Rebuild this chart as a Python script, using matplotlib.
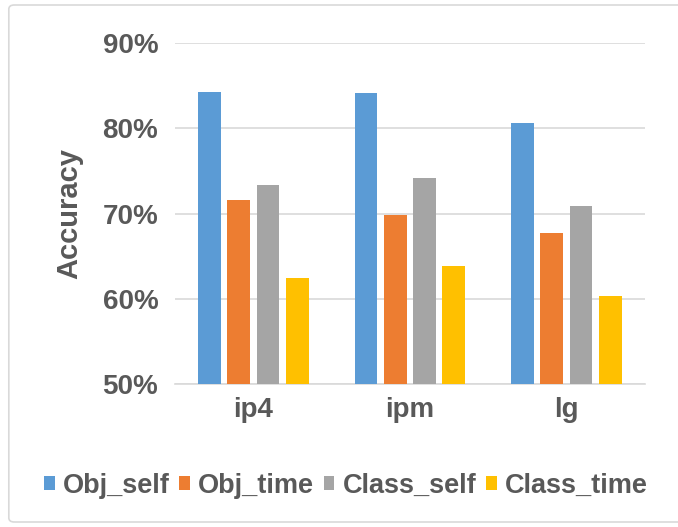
import matplotlib.pyplot as plt
import numpy as np
from matplotlib.patches import FancyBboxPatch
from matplotlib.ticker import FuncFormatter

plt.rcParams["font.family"] = ["Liberation Sans", "DejaVu Sans"]

# -- Data -----------------------------------------------------------------
categories = ["ip4", "ipm", "lg"]
series_names = ["Obj_self", "Obj_time", "Class_self", "Class_time"]
obj_self = [84.3, 84.2, 80.6]
obj_time = [71.6, 69.9, 67.7]
class_self = [73.4, 74.2, 70.9]
class_time = [62.4, 63.9, 60.3]
colors = ["#5B9BD5", "#ED7D31", "#A5A5A5", "#FFC000"]
text_color = "#595959"

fig = plt.figure(figsize=(6.78, 5.27), dpi=100)
ax = fig.add_axes([0.258, 0.271, 0.693, 0.647])

# light frame around the whole chart (right edge runs off the image)
fig.patches.append(FancyBboxPatch((0.013, 0.0095), 1.05, 0.981,
                                  boxstyle="round,pad=0,rounding_size=0.008",
                                  transform=fig.transFigure, fill=False,
                                  edgecolor="#D9D9D9", linewidth=1.2))

x = np.arange(len(categories))
pitch = 0.187
width = 0.145
all_series = [obj_self, obj_time, class_self, class_time]
for i, (name, vals) in enumerate(zip(series_names, all_series)):
    offset = (i - 1.5) * pitch
    ax.bar(x + offset, vals, width, color=colors[i], label=name, zorder=3)

ax.set_ylim(50, 90)
ax.set_xlim(-0.5, 2.5)
ax.set_yticks([50, 60, 70, 80, 90])
ax.yaxis.set_major_formatter(FuncFormatter(lambda v, _: f"{v:.0f}%"))
ax.grid(axis="y", color="#D9D9D9", linewidth=1.2, zorder=0)
ax.set_xticks(x)
ax.set_xticklabels(categories)

for s in ["top", "right", "left"]:
    ax.spines[s].set_visible(False)
ax.spines["bottom"].set_color("#D9D9D9")
ax.spines["bottom"].set_linewidth(1.2)
ax.tick_params(length=0, colors=text_color, labelsize=20)
ax.tick_params(axis="y", pad=12)
ax.tick_params(axis="x", pad=9)
for lbl in ax.get_xticklabels() + ax.get_yticklabels():
    lbl.set_fontweight("bold")

ax.set_ylabel("Accuracy", fontsize=21, fontweight="bold", color=text_color, labelpad=14)

leg = fig.legend(loc="center", bbox_to_anchor=(0.51, 0.078), ncol=4, frameon=False,
                 handlelength=0.4, handleheight=0.4, handletextpad=0.3,
                 columnspacing=0.35, prop={"size": 19.5, "weight": "bold"})
for t in leg.get_texts():
    t.set_color(text_color)

fig.savefig("out.png", dpi=100)
